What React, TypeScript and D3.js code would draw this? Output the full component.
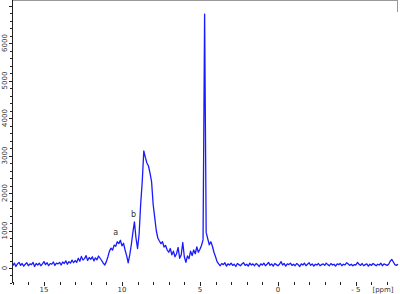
import React, { useEffect, useRef } from 'react';
import * as d3 from 'd3';

// spectrum sampled every 0.1 ppm, from 17.0 down to -7.7
const ppmStart = 17.0;
const ppmStep = -0.1;
const intensities = [
  60, 130, 40, 110, 150, 70, 120, 50, 100, 140,
  60, 110, 90, 150, 40, 120, 80, 130, 60, 110,
  170, 90, 140, 60, 120, 100, 160, 70, 130, 110,
  150, 80, 160, 120, 190, 100, 170, 130, 210, 140,
  200, 150, 260, 180, 310, 210, 250, 330, 200, 280,
  230, 300, 190, 270, 220, 320, 260, 200, 130, 80,
  170, 300, 450, 530, 480, 610, 580, 700, 650, 740,
  590, 660, 480, 330, 140, 350, 620, 950, 1230, 800,
  520, 900, 1700, 2300, 3120, 2950, 2800, 2720, 2530, 2300,
  1700, 1350, 1000, 800, 720, 650, 700, 560, 600, 480,
  420, 520, 350, 450, 300, 380, 550, 260, 350, 680,
  300, 150, 320, 250, 450, 330, 480, 380, 560, 420,
  500, 600, 750, 6770, 950, 780, 620, 700, 580, 420,
  300, 170, 110, 60, 120, 90, 140, 50, 110, 80,
  130, 70, 100, 40, 120, 90, 60, 110, 140, 70,
  100, 50, 130, 80, 110, 60, 120, 90, 40, 110,
  80, 130, 60, 100, 150, 70, 110, 50, 120, 90,
  60, 100, 170, 80, 120, 50, 110, 90, 130, 70,
  100, 60, 120, 90, 40, 110, 80, 130, 60, 100,
  140, 70, 110, 50, 100, 80, 120, 60, 90, 110,
  70, 130, 90, 60, 120, 80, 100, 50, 110, 90,
  120, 60, 100, 80, 140, 110, 70, 100, 60, 90,
  80, 150, 100, 70, 120, 60, 90, 110, 50, 100,
  70, 120, 90, 60, 100, 80, 130, 60, 110, 90,
  70, 100, 180, 230, 160, 90, 70, 100
];

const xTickValues = [15, 10, 5, 0, -5];
const xTickLabels = ['15', '10', '5', '0', '- 5'];
const yTickValues = [0, 1000, 2000, 3000, 4000, 5000, 6000];
const peakLabels = [
  { text: 'a', ppm: 10.4, value: 740 },
  { text: 'b', ppm: 9.25, value: 1230 }
];

const App = () => {
  const ref = useRef(null);

  useEffect(() => {
    document.body.style.margin = '0';
    d3.select(ref.current).selectAll('*').remove();

    const width = 400;
    const height = 294;
    const left = 12;
    const right = 398;
    const axisBottom = 283;
    const textColor = '#333';

    const svg = d3.select(ref.current)
      .append('svg')
      .attr('width', width)
      .attr('height', height)
      .style('display', 'block')
      .style('font-family', 'DejaVu Sans, sans-serif');

    const x = d3.scaleLinear().domain([17.05, -7.7]).range([left, right]);
    const y = d3.scaleLinear().domain([0, 1000]).range([268, 230.5]);

    const data = intensities.map((v, i) => ({ ppm: ppmStart + i * ppmStep, v }));

    // frame top
    svg.append('line')
      .attr('x1', left).attr('x2', right).attr('y1', 0.5).attr('y2', 0.5)
      .attr('stroke', '#999').attr('stroke-width', 1);
    svg.append('line')
      .attr('x1', right - 0.5).attr('x2', right - 0.5).attr('y1', 0).attr('y2', 12)
      .attr('stroke', '#999').attr('stroke-width', 1);

    // y axis
    svg.append('line')
      .attr('x1', left + 0.5).attr('x2', left + 0.5).attr('y1', 0).attr('y2', axisBottom)
      .attr('stroke', '#222').attr('stroke-width', 1);

    const yMinor = d3.range(-400, 7001, 200);
    svg.append('g').selectAll('line')
      .data(yMinor).enter()
      .append('line')
      .attr('x1', d => (d % 1000 === 0 ? left - 3 : left - 2))
      .attr('x2', left)
      .attr('y1', d => Math.round(y(d)) + 0.5)
      .attr('y2', d => Math.round(y(d)) + 0.5)
      .attr('stroke', '#222').attr('stroke-width', 1);

    svg.append('g').selectAll('text')
      .data(yTickValues).enter()
      .append('text')
      .attr('transform', d => `translate(6.5, ${y(d)}) rotate(-90)`)
      .attr('text-anchor', 'middle')
      .attr('font-size', 7)
      .attr('fill', textColor)
      .text(d => d);

    // x axis ticks
    const xMinor = d3.range(-7, 18, 1);
    svg.append('g').selectAll('line')
      .data(xMinor).enter()
      .append('line')
      .attr('x1', d => Math.round(x(d)) + 0.5)
      .attr('x2', d => Math.round(x(d)) + 0.5)
      .attr('y1', axisBottom - 1)
      .attr('y2', d => (d % 5 === 0 ? axisBottom + 3 : axisBottom + 2))
      .attr('stroke', '#222').attr('stroke-width', 1);

    svg.append('g').selectAll('text')
      .data(xTickValues).enter()
      .append('text')
      .attr('x', d => x(d))
      .attr('y', 292)
      .attr('text-anchor', 'middle')
      .attr('font-size', 7)
      .attr('fill', textColor)
      .text((d, i) => xTickLabels[i]);

    svg.append('text')
      .attr('x', 383)
      .attr('y', 292)
      .attr('text-anchor', 'middle')
      .attr('font-size', 7)
      .attr('fill', textColor)
      .text('[ppm]');

    // spectrum
    const line = d3.line()
      .x(d => x(d.ppm))
      .y(d => y(d.v));

    svg.append('path')
      .datum(data)
      .attr('d', line)
      .attr('fill', 'none')
      .attr('stroke', '#1a1aff')
      .attr('stroke-width', 1.3)
      .attr('stroke-linejoin', 'round');

    // peak labels
    svg.append('g').selectAll('text')
      .data(peakLabels).enter()
      .append('text')
      .attr('x', d => x(d.ppm))
      .attr('y', d => y(d.value) - 5)
      .attr('text-anchor', 'middle')
      .attr('font-size', 8)
      .attr('fill', textColor)
      .text(d => d.text);
  }, []);

  return <div ref={ref}></div>;
};

export default App;
